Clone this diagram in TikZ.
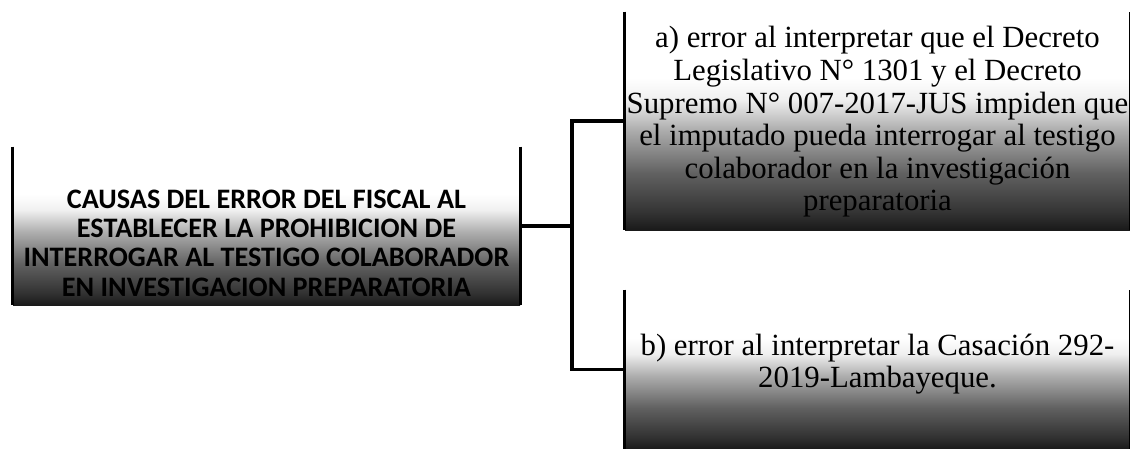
\documentclass[tikz,border=0pt]{standalone}
\usepackage{fontspec}
\setmainfont{Liberation Serif}
\newfontfamily\calib{Carlito}
\pgfdeclareverticalshading{scanshade}{100bp}{color(0bp)=(black!90); color(25bp)=(black!90); color(29bp)=(black!80); color(38bp)=(black!62); color(48bp)=(black!32); color(55bp)=(black!6); color(60bp)=(white); color(100bp)=(white)}
\tikzset{
  box/.style={shading=scanshade, inner sep=0pt, draw=none},
  side/.style={line width=1.6pt, black},
  conn/.style={line width=1.6pt, black},
  lefttext/.style={font=\calib\bfseries\fontsize{14.1}{14.7}\selectfont, align=center, text=black},
  righttext/.style={font=\fontsize{15.4}{16.3}\selectfont, align=center, text=black},
}
\begin{document}
\begin{tikzpicture}[x=0.5pt,y=-0.5pt]
\useasboundingbox (0,0) rectangle (1130,449);
\node[box, minimum width=253.5pt, minimum height=79pt] (L) at (266.5,226) {};
\node[box, minimum width=252.5pt, minimum height=109pt] (A) at (877.5,121) {};
\node[box, minimum width=252.5pt, minimum height=79.5pt] (B) at (877.5,369.5) {};
\draw[side] (L.north west) -- (L.south west);
\draw[side] (L.north east) -- (L.south east);
\draw[side] (A.north west) -- (A.south west);
\draw[side] (A.north east) -- (A.south east);
\draw[side] (B.north west) -- (B.south west);
\draw[side] (B.north east) -- (B.south east);
\node[lefttext] (Lt) at (266.5,243) {CAUSAS DEL ERROR DEL FISCAL AL\\ESTABLECER LA PROHIBICION DE\\INTERROGAR AL TESTIGO COLABORADOR\\EN INVESTIGACION PREPARATORIA};
\node[righttext] (At) at (877.5,122) {a) error al interpretar que el Decreto\\Legislativo N° 1301 y el Decreto\\Supremo N° 007-2017-JUS impiden que\\el imputado pueda interrogar al testigo\\colaborador en la investigación\\preparatoria};
\node[righttext] (Bt) at (877.5,364) {b) error al interpretar la Casación 292-\\2019-Lambayeque.};
\coordinate (J) at (572,226);
\draw[conn] (L.east) -- (J);
\draw[conn] (J) |- (A.west);
\draw[conn] (J) |- (B.west);
\end{tikzpicture}
\end{document}
